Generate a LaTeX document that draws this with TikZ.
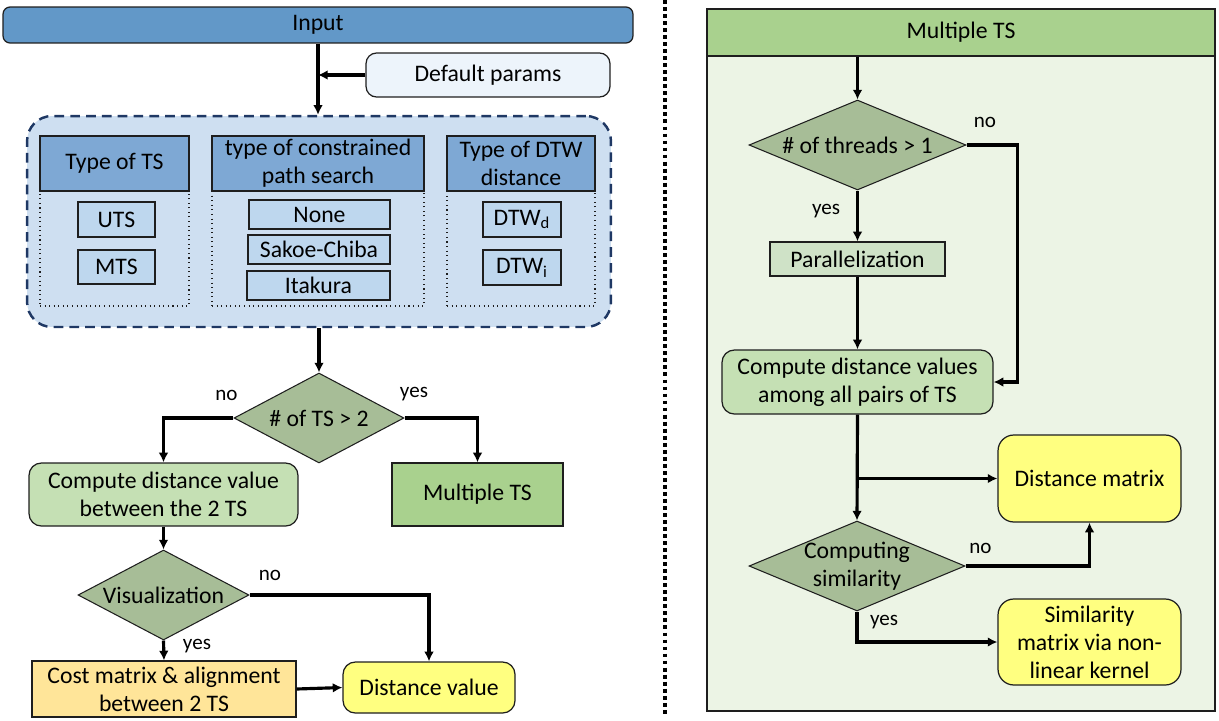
\documentclass[tikz,border=0pt]{standalone}
\usepackage{fontspec}
\setmainfont{Carlito}
\usepackage{tikz}
\usetikzlibrary{shapes,arrows.meta,positioning,calc}
\definecolor{inputblue}{RGB}{98,152,200}
\definecolor{paramfill}{RGB}{237,244,251}
\definecolor{groupfill}{RGB}{206,223,241}
\definecolor{groupline}{RGB}{31,56,100}
\definecolor{headblue}{RGB}{126,168,212}
\definecolor{itemblue}{RGB}{190,215,238}
\definecolor{decgreen}{RGB}{167,189,151}
\definecolor{compgreen}{RGB}{197,224,180}
\definecolor{multigreen}{RGB}{169,209,142}
\definecolor{costorange}{RGB}{255,229,153}
\definecolor{resultyellow}{RGB}{255,255,128}
\definecolor{panelgreen}{RGB}{236,244,229}
\definecolor{pargreen}{RGB}{207,226,199}
\definecolor{boxline}{RGB}{30,30,30}
\tikzstyle{box} = [draw=boxline,line width=0.7pt,align=center,inner sep=0pt]
\tikzstyle{roundbox} = [box,rounded corners=7pt]
\tikzstyle{item} = [box,fill=itemblue]
\tikzstyle{colbody} = [draw=boxline,dotted,line width=0.6pt,inner sep=0pt]
\tikzstyle{decision} = [draw=boxline,line width=0.6pt,shape=diamond,fill=decgreen,inner sep=0pt,minimum width=3.4cm,minimum height=1.8cm,label={[align=center]center:#1}]
\tikzstyle{answer} = [inner sep=0pt,font=\fontsize{12}{14}\selectfont]
\tikzstyle{arrowline} = [line width=1.8pt,-{Latex[length=5.5pt,width=5.5pt]}]
\tikzset{>=latex}

\begin{document}
\begin{tikzpicture}[x=0.02cm,y=-0.02cm,every node/.style={font=\fontsize{13.5}{16}\selectfont}]
    \useasboundingbox (0,0) rectangle (1219,720);
    \node [box,rounded corners=4pt,fill=inputblue,minimum width=12.6cm,minimum height=0.72cm] (input) at (318,25) {Input};
    \node [box,rounded corners=6pt,fill=paramfill,minimum width=4.88cm,minimum height=0.88cm] (defparams) at (488,75) {Default params};
    \node [draw=groupline,line width=1.4pt,dash pattern=on 5.5pt off 3.5pt,rounded corners=0.5cm,fill=groupfill,minimum width=11.68cm,minimum height=4.22cm] (params) at (319,221.5) {};
    \node [colbody,minimum width=2.98cm,minimum height=2.3cm] (tsbody) at (114.5,248.5) {};
    \node [colbody,minimum width=4.24cm,minimum height=2.3cm] (pathbody) at (318,248.5) {};
    \node [colbody,minimum width=2.96cm,minimum height=2.3cm] (dtwbody) at (521,248.5) {};
    \node [box,fill=headblue,minimum width=2.98cm,minimum height=1.1cm] (tshead) at (114.5,163.5) {Type of TS};
    \node [box,fill=headblue,minimum width=4.24cm,minimum height=1.1cm] (pathhead) at (318,163.5) {type of constrained\\path search};
    \node [box,fill=headblue,minimum width=2.96cm,minimum height=1.1cm] (dtwhead) at (521,163.5) {Type of DTW\\distance};
    \node [item,minimum width=1.54cm,minimum height=0.7cm] (uts) at (116.5,219.5) {UTS};
    \node [item,minimum width=1.54cm,minimum height=0.68cm] (mts) at (116.5,267) {MTS};
    \node [item,minimum width=2.82cm,minimum height=0.58cm] (none) at (319.5,214.5) {None};
    \node [item,minimum width=2.84cm,minimum height=0.58cm] (sakoe) at (319,249.5) {Sakoe-Chiba};
    \node [item,minimum width=2.86cm,minimum height=0.58cm] (itakura) at (318.5,285.5) {Itakura};
    \node [item,minimum width=1.56cm,minimum height=0.7cm] (dtwd) at (522,219.5) {DTW\textsubscript{d}};
    \node [item,minimum width=1.56cm,minimum height=0.7cm] (dtwi) at (522,267.5) {DTW\textsubscript{i}};
    \node [decision={\# of TS > 2}] (tscount) at (319,418) {};
    \node [roundbox,fill=compgreen,minimum width=5.38cm,minimum height=1.26cm] (comptwo) at (163.5,494.5) {Compute distance value\\between the 2 TS};
    \node [box,fill=multigreen,minimum width=3.42cm,minimum height=1.26cm] (multi) at (477.5,494.5) {Multiple TS};
    \node [decision={Visualization},minimum width=3.42cm] (visual) at (163.5,595) {};
    \node [box,fill=costorange,minimum width=5.28cm,minimum height=1.12cm] (cost) at (164,689) {Cost matrix \& alignment\\between 2 TS};
    \node [roundbox,fill=resultyellow,minimum width=3.44cm,minimum height=1.02cm] (distval) at (429,687.5) {Distance value};
    \node [answer] (tsno) at (226.5,395) {no};
    \node [answer] (tsyes) at (414,394.5) {yes};
    \node [answer] (visno) at (270,575) {no};
    \node [answer] (visyes) at (197,646) {yes};

    \draw [arrowline] (input.south) -- (input.south |- params.north);
    \draw [arrowline] (defparams.west) -- (defparams.west -| input.south);
    \draw [arrowline] (params.south) -- (tscount.north);
    \draw [arrowline] (tscount.west) -| (comptwo.north);
    \draw [arrowline] (tscount.east) -| (multi.north);
    \draw [arrowline] (comptwo.south) -- (visual.north);
    \draw [arrowline] (visual.east) -| (distval.north);
    \draw [arrowline] (visual.south) -- (cost.north);
    \draw [arrowline] (cost.east) -- (distval.west);

    \coordinate (septop) at (665,0);
    \coordinate (sepbottom) at (665,716);
    \draw [line width=2.2pt,dash pattern=on 2.2pt off 1.8pt] (septop) -- (sepbottom);

    \node [draw=boxline,line width=0.8pt,fill=panelgreen,minimum width=10.16cm,minimum height=13.1cm,inner sep=0pt] (panel) at (961,383.5) {};
    \node [box,line width=0.8pt,fill=multigreen,minimum width=10.16cm,minimum height=0.94cm] (multihead) at (961,32.5) {Multiple TS};
    \node [decision={\# of threads > 1},minimum width=4.34cm] (threads) at (857.5,145) {};
    \node [box,fill=pargreen,minimum width=3.5cm,minimum height=0.68cm] (parallel) at (857.5,259) {Parallelization};
    \node [roundbox,fill=compgreen,minimum width=5.42cm,minimum height=1.28cm] (compall) at (857.5,382) {Compute distance values\\among all pairs of TS};
    \node [roundbox,rounded corners=9pt,fill=resultyellow,minimum width=3.66cm,minimum height=1.74cm] (distmat) at (1089.5,478.5) {Distance matrix};
    \node [decision={Computing\\similarity},minimum width=4.32cm] (similar) at (857,566) {};
    \node [roundbox,rounded corners=9pt,fill=resultyellow,minimum width=3.66cm,minimum height=1.72cm] (simmat) at (1089.5,642) {Similarity\\matrix via non-\\linear kernel};
    \node [answer] (thrno) at (985,122.5) {no};
    \node [answer] (thryes) at (826,211) {yes};
    \node [answer] (simno) at (980.5,548) {no};
    \node [answer] (simyes) at (884,622.5) {yes};

    \draw [arrowline] (multihead.south -| threads.north) -- (threads.north);
    \draw [arrowline] (threads.east) -- ++(51,0) |- (compall.east);
    \draw [arrowline] (threads.south) -- (parallel.north);
    \draw [arrowline] (parallel.south) -- (compall.north);
    \draw [arrowline] (compall.south) -- (similar.north);
    \draw [arrowline] (compall.south |- distmat.west) -- (distmat.west);
    \draw [arrowline] (similar.east) -| (distmat.south);
    \draw [arrowline] (similar.south) |- (simmat.west);
\end{tikzpicture}
\end{document}
